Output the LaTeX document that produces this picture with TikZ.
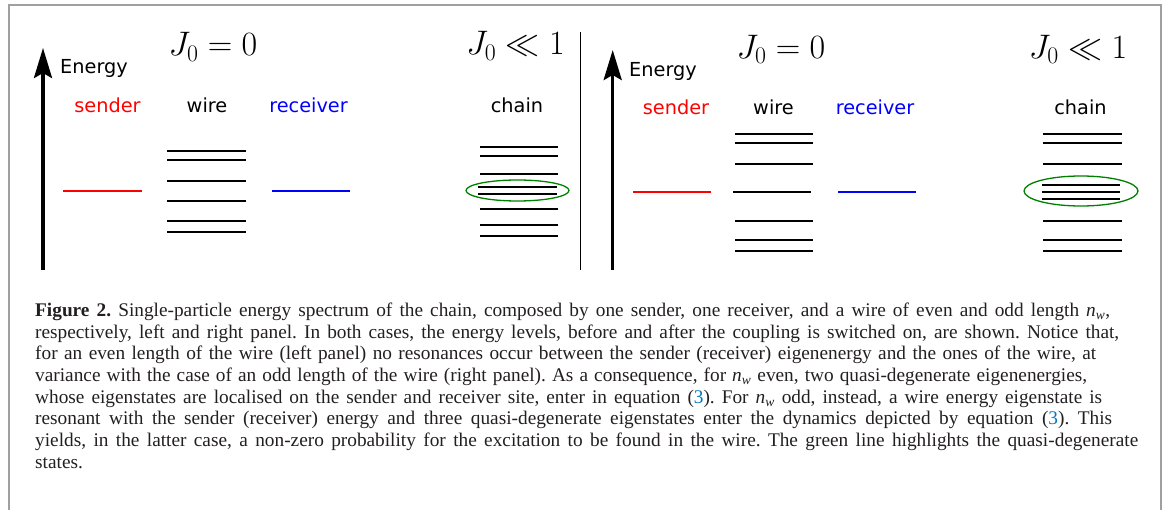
\RequirePackage{fix-cm}
\documentclass[tikz,border=0pt]{standalone}
\usepackage[no-math]{fontspec}
\setmainfont{Liberation Serif}
\newfontfamily\labelfont{DejaVu Sans}
\usepackage{tikz}
\usetikzlibrary{arrows.meta}

\definecolor{ringgreen}{RGB}{0,128,0}
\definecolor{refblue}{RGB}{0,120,190}
\definecolor{framegray}{RGB}{160,160,160}
\definecolor{captext}{RGB}{35,31,32}

\newcommand{\nwire}{\textit{n}\textsubscript{\textit{w}}}
\newcommand{\capfit}[2]{\hbox to #1{\frenchspacing#2}}

\begin{document}
\begin{tikzpicture}[x=1pt,y=-1pt,
  level/.style={line width=2pt},
  axis/.style={line width=3.5pt,-{Stealth[length=30pt,width=18pt,inset=5pt]}},
  ring/.style={ringgreen,line width=1.3pt},
  lbl/.style={font=\labelfont\fontsize{19.3}{23}\selectfont,anchor=base,inner sep=0pt},
  jlbl/.style={font=\fontsize{34}{40}\selectfont,anchor=base,inner sep=0pt},
  capline/.style={font=\fontsize{19.3}{21.67}\selectfont,anchor=base west,inner sep=0pt,text=captext}]

\useasboundingbox (0,0) rectangle (1168,510);

% frame:
\draw[framegray,line width=1.5pt] (9,510) -- (9,5) -- (1161,5) -- (1161,510);

% left panel (even wire), J0 = 0:
\coordinate (axisLbot) at (43,270);
\coordinate (axisLtop) at (43,48);
\draw[axis] (axisLbot) -- (axisLtop);
\node[lbl,anchor=base west] (energyL) at (60,73.3) {Energy};
\node[jlbl] (jzeroL) at (213,56) {$J_0=0$};
\node[lbl,red] (senderL) at (107.5,112.7) {sender};
\node[lbl] (wireL) at (207,112.7) {wire};
\node[lbl,blue] (receiverL) at (308.5,112.7) {receiver};
\draw[level,red] (63,191) -- (142,191);
\draw[level] (167,150.7) -- (246,150.7);
\draw[level] (167,159.7) -- (246,159.7);
\draw[level] (167,181.3) -- (246,181.3);
\draw[level] (167,201.3) -- (246,201.3);
\draw[level] (167,221) -- (246,221);
\draw[level] (167,232) -- (246,232);
\draw[level,blue] (272,191) -- (350,191);

% left panel, J0 << 1:
\node[jlbl] (jsmallL) at (515.5,55) {$J_0\ll1$};
\node[lbl] (chainL) at (517,112.7) {chain};
\draw[level] (480,146.7) -- (558,146.7);
\draw[level] (480,155.7) -- (558,155.7);
\draw[level] (480,173.7) -- (558,173.7);
\draw[level] (478,187.3) -- (557,187.3);
\draw[level] (478,194.3) -- (557,194.3);
\draw[level] (480,209) -- (558,209);
\draw[level] (480,225) -- (558,225);
\draw[level] (480,236) -- (558,236);
\draw[ring] (517.5,190.5) ellipse [x radius=51.5, y radius=10.5];

% separator:
\draw[line width=1pt] (580,32) -- (580,270);

% right panel (odd wire), J0 = 0:
\coordinate (axisRbot) at (612.7,270);
\coordinate (axisRtop) at (612.7,50);
\draw[axis] (axisRbot) -- (axisRtop);
\node[lbl,anchor=base west] (energyR) at (629,76.7) {Energy};
\node[jlbl] (jzeroR) at (781,58.8) {$J_0=0$};
\node[lbl,red] (senderR) at (676,115) {sender};
\node[lbl] (wireR) at (773.5,115) {wire};
\node[lbl,blue] (receiverR) at (875,115) {receiver};
\draw[level,red] (633,192.3) -- (711,192.3);
\draw[level] (735,134) -- (813,134);
\draw[level] (735,142.7) -- (813,142.7);
\draw[level] (735,164.3) -- (813,164.3);
\draw[level] (733,191.7) -- (811,191.7);
\draw[level] (735,220.7) -- (813,220.7);
\draw[level] (735,240) -- (813,240);
\draw[level] (735,251) -- (813,251);
\draw[level,blue] (838,192) -- (916,192);

% right panel, J0 << 1:
\node[jlbl] (jsmallR) at (1078,58.3) {$J_0\ll1$};
\node[lbl] (chainR) at (1080.5,115) {chain};
\draw[level] (1043,134) -- (1122,134);
\draw[level] (1043,142.7) -- (1122,142.7);
\draw[level] (1043,164.3) -- (1122,164.3);
\draw[level] (1042,185) -- (1120,185);
\draw[level] (1042,191.7) -- (1120,191.7);
\draw[level] (1042,199) -- (1120,199);
\draw[level] (1043,220.7) -- (1122,220.7);
\draw[level] (1043,240) -- (1122,240);
\draw[level] (1043,251) -- (1122,251);
\draw[ring] (1081,191) ellipse [x radius=57, y radius=15];

% caption:
\node[capline] (cap1) at (35,316.7) {\capfit{1075pt}{\textbf{Figure 2.} Single-particle energy spectrum of the chain, composed by one sender, one receiver, and a wire of even and odd length \nwire,}};
\node[capline] (cap2) at (35,338.4) {\capfit{1084pt}{respectively, left and right panel. In both cases, the energy levels, before and after the coupling is switched on, are shown. Notice that,}};
\node[capline] (cap3) at (35,360.0) {\capfit{1061pt}{for an even length of the wire (left panel) no resonances occur between the sender (receiver) eigenenergy and the ones of the wire, at}};
\node[capline] (cap4) at (35,381.7) {\capfit{1052pt}{variance with the case of an odd length of the wire (right panel). As a consequence, for \nwire\ even, two quasi-degenerate eigenenergies,}};
\node[capline] (cap5) at (35,403.4) {\capfit{1067pt}{whose eigenstates are localised on the sender and receiver site, enter in equation (\textcolor{refblue}{3}). For \nwire\ odd, instead, a wire energy eigenstate is}};
\node[capline] (cap6) at (35,425.0) {\capfit{1077pt}{resonant with the sender (receiver) energy and three quasi-degenerate eigenstates enter the dynamics depicted by equation (\textcolor{refblue}{3}). This}};
\node[capline] (cap7) at (35,446.7) {\capfit{1103pt}{yields, in the latter case, a non-zero probability for the excitation to be found in the wire. The green line highlights the quasi-degenerate}};
\node[capline] (cap8) at (35,468.4) {states.};

\end{tikzpicture}
\end{document}
